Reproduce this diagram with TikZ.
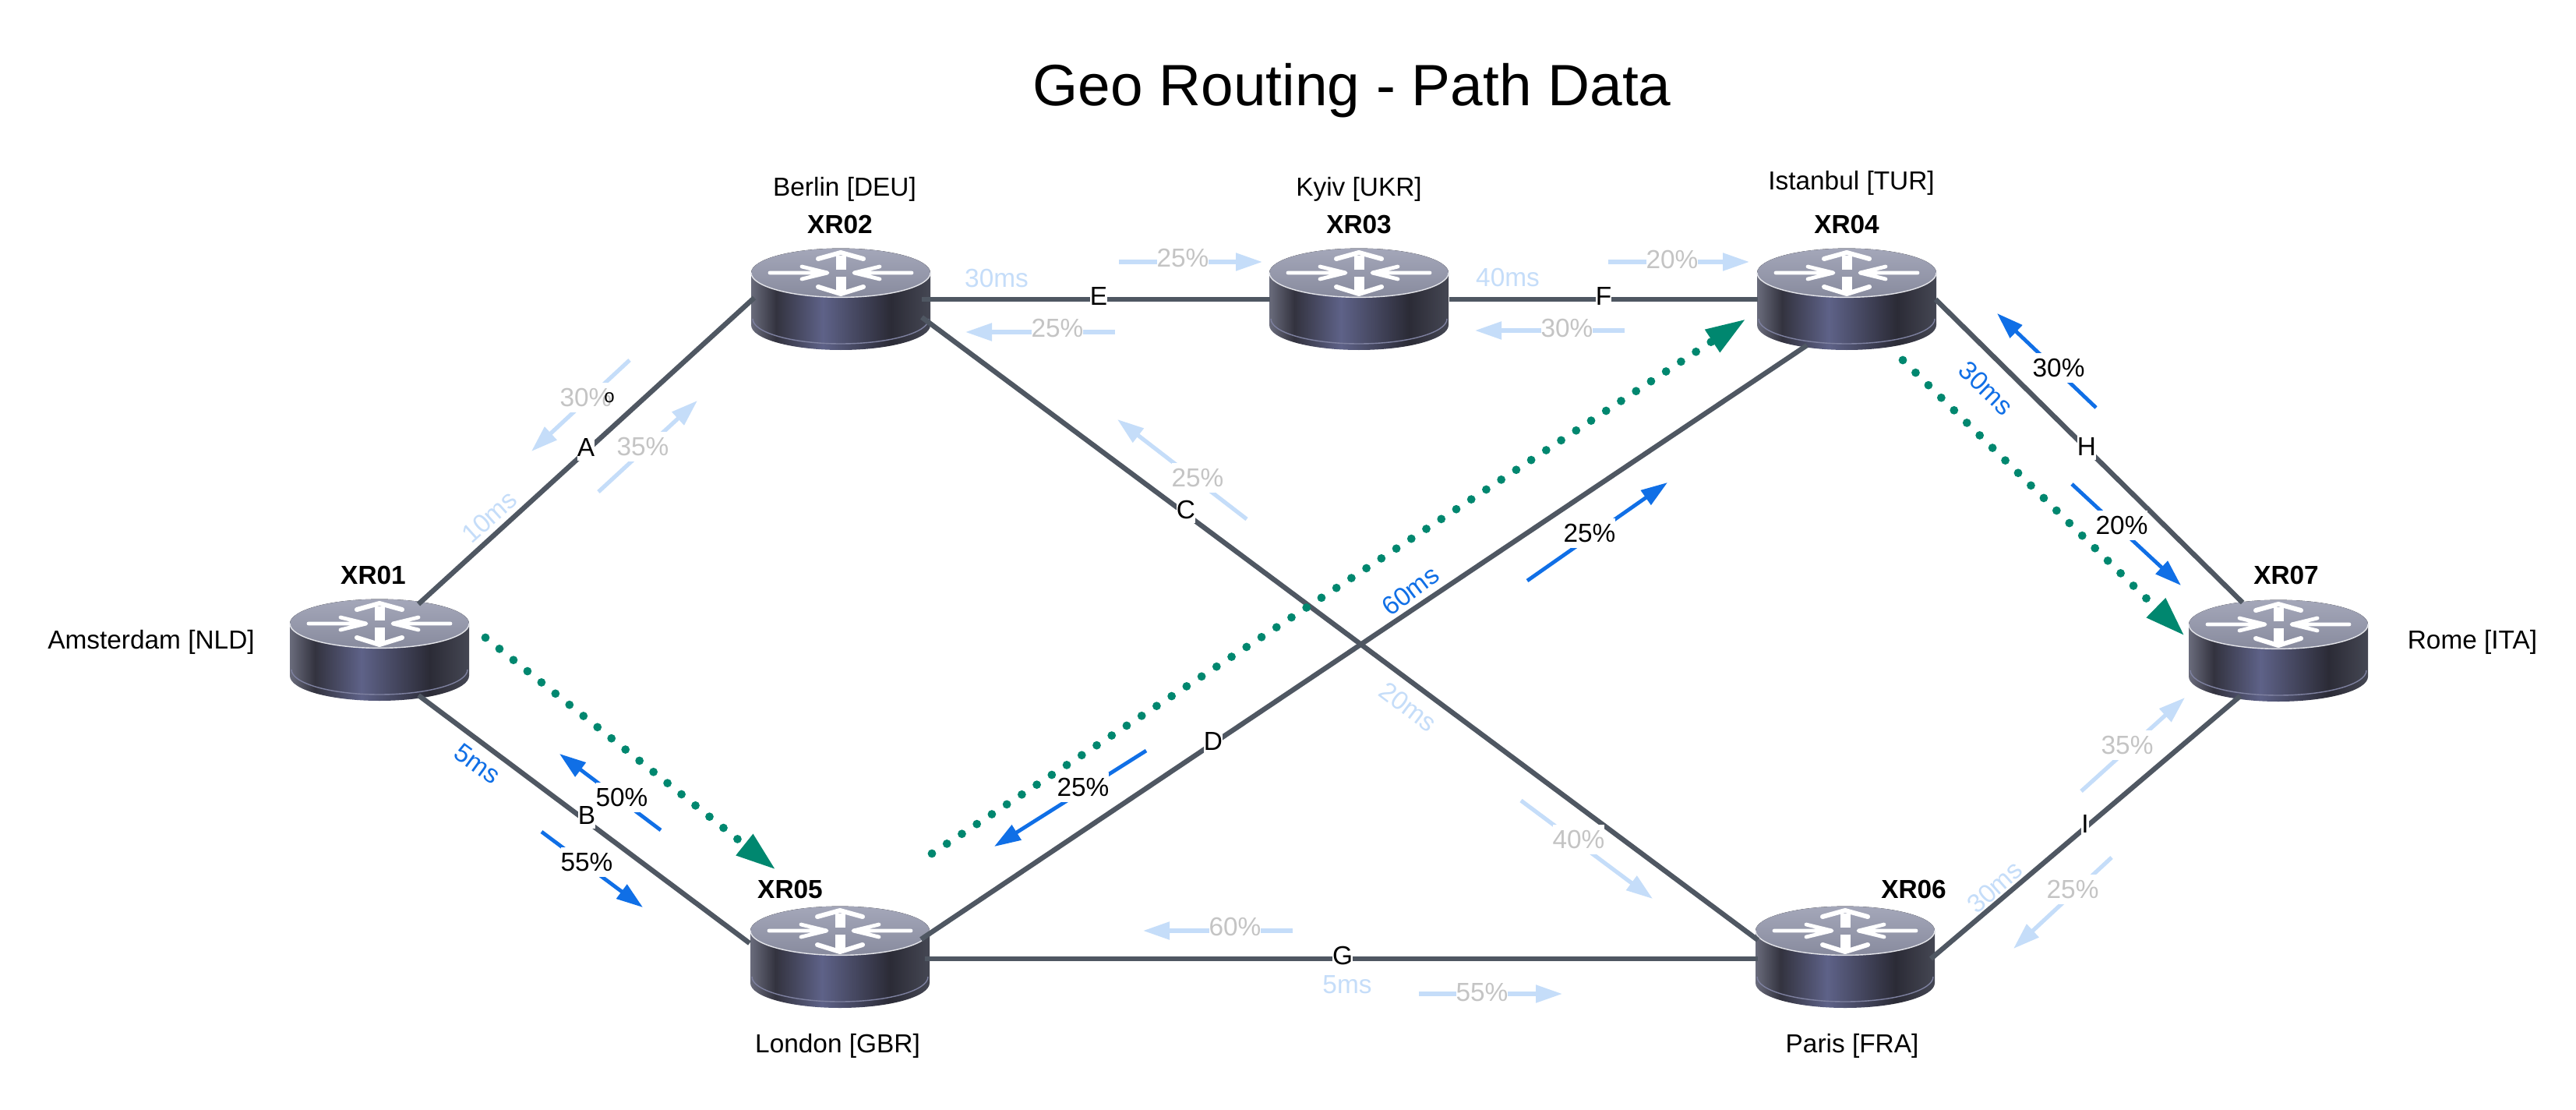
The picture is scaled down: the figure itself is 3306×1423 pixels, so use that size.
\documentclass[tikz,border=0pt]{standalone}
\usepackage{fontspec}
\setmainfont{Liberation Sans}
\usetikzlibrary{arrows.meta}
\definecolor{sa}{HTML}{6A6C7C}
\definecolor{sb}{HTML}{33333F}
\definecolor{sc}{HTML}{5E6288}
\definecolor{sd}{HTML}{2B2B36}
\definecolor{se}{HTML}{454753}
\definecolor{ta}{HTML}{A4A7B9}
\definecolor{tb}{HTML}{888B9E}
\definecolor{linkc}{HTML}{4F5762}
\definecolor{blueflow}{HTML}{106FE6}
\definecolor{lightflow}{HTML}{C5DDF9}
\definecolor{greyt}{HTML}{C4C4C4}
\definecolor{greenp}{HTML}{00876F}
\pgfdeclarehorizontalshading{routerside}{100bp}{color(0bp)=(sa); color(25bp)=(sa); color(32bp)=(sb); color(45bp)=(sc); color(64bp)=(sd); color(75bp)=(se); color(100bp)=(se)}
\pgfdeclareverticalshading{routertop}{100bp}{color(0bp)=(tb); color(25bp)=(tb); color(75bp)=(ta); color(100bp)=(ta)}
\tikzset{
  x=0.5pt,y=-0.5pt,
  link/.style={draw=linkc,line width=3.2pt},
  letter/.style={fill=white,inner sep=0pt,minimum height=17pt,font=\fontsize{16.7}{19}\selectfont},
  txt/.style={inner sep=0pt,font=\fontsize{16.7}{19}\selectfont},
  host/.style={inner sep=0pt,font=\fontsize{16.7}{19}\selectfont\bfseries},
  flowlabel/.style={fill=white,inner sep=0pt,minimum height=19pt,font=\fontsize{16.7}{19}\selectfont},
  hot/.style={draw=blueflow,line width=2.4pt,-{Triangle[length=17pt,width=11pt,fill=blueflow]}},
  cold/.style={draw=lightflow,line width=2.6pt,-{Triangle[length=17pt,width=11pt,fill=lightflow]}},
  path/.style={draw=greenp,line width=5.4pt,line cap=round,dash pattern=on 0pt off 11.5pt,-{Triangle[length=26pt,width=16pt,fill=greenp]}},
  routerbox/.style={inner sep=0pt,minimum width=115pt,minimum height=65pt},
  arroww/.style={draw=white,line width=2.4pt,line cap=round,line join=round},
}
\newcommand\router[3]{%
  \node[routerbox] (#1) at (#2,#3+34) {};
  \begin{scope}[shift={(#2,#3)}]
    \shade[shading=routerside] (-115,0) -- (-115,67) arc[start angle=180,end angle=360,x radius=57.5pt,y radius=16pt] -- (115,0) -- cycle;
    \draw[draw=sc!80!white,line width=0.7pt] (-113,59) arc[start angle=180,end angle=360,x radius=56.5pt,y radius=16pt];
    \fill[shading=routertop] (0,0) ellipse[x radius=57.5pt,y radius=15.7pt];
    \draw[draw=white!70!ta,line width=0.7pt] (-115,0) arc[start angle=180,end angle=360,x radius=57.5pt,y radius=15.7pt];
    \draw[arroww] (-91,0) -- (-20,0) (-50,-8) -- (-17,0) -- (-50,8);
    \draw[arroww] (91,0) -- (20,0) (50,-8) -- (17,0) -- (50,8);
    \draw[arroww,line width=6.5pt,line cap=butt] (0,-4) -- (0,-22);
    \draw[arroww,line width=3pt] (-29,-18) -- (0,-26) -- (29,-18);
    \draw[arroww,line width=6.5pt,line cap=butt] (0,5) -- (0,24);
    \draw[arroww,line width=3pt] (-29,18) -- (0,27) -- (29,18);
  \end{scope}}
\newcommand\linkline[3]{%
  \coordinate (#1s) at (#2); \coordinate (#1t) at (#3);
  \draw[link] (#1s) -- (#1t);}
\newcommand\hotflow[5]{%
  \coordinate (#1s) at (#2); \coordinate (#1t) at (#3);
  \draw[hot] (#1s) -- (#1t);
  \node[flowlabel,text=black] (#1l) at (#4) {#5};}
\newcommand\coldflow[5]{%
  \coordinate (#1s) at (#2); \coordinate (#1t) at (#3);
  \draw[cold] (#1s) -- (#1t);
  \node[flowlabel,text=greyt] (#1l) at (#4) {#5};}
\begin{document}
\begin{tikzpicture}
\useasboundingbox[fill=white] (0,0) rectangle (3306,1423);
\node[inner sep=0pt,font=\fontsize{37.4}{44}\selectfont] (title) at (1735,116) {Geo Routing - Path Data};

\router{xr01}{487}{800}
\router{xr02}{1079}{350}
\router{xr03}{1744}{350}
\router{xr04}{2370}{350}
\router{xr05}{1078}{1194}
\router{xr06}{2368}{1194}
\router{xr07}{2924}{801}

\node[host] (h1) at (479,738) {XR01};
\node[host] (h2) at (1078,288) {XR02};
\node[host] (h3) at (1744,288) {XR03};
\node[host] (h4) at (2370,288) {XR04};
\node[host] (h5) at (1014,1141) {XR05};
\node[host] (h6) at (2456,1141) {XR06};
\node[host] (h7) at (2934,738) {XR07};

\node[txt] (l1) at (194,824) {Amsterdam [NLD]};
\node[txt] (l2) at (1084,243) {Berlin [DEU]};
\node[txt] (l3) at (1744,243) {Kyiv [UKR]};
\node[txt] (l4) at (2376,235) {Istanbul [TUR]};
\node[txt] (l5) at (1075,1342) {London [GBR]};
\node[txt] (l6) at (2377,1342) {Paris [FRA]};
\node[txt] (l7) at (3173,824) {Rome [ITA]};

\linkline{a}{537,775}{968,382}
\linkline{b}{537,892}{962,1210}
\linkline{c}{1183,407}{2256,1206}
\linkline{d}{1182,1205}{2319,443}
\linkline{e}{1183,384}{1630,384}
\linkline{f}{1860,384}{2256,384}
\linkline{g}{1187,1230}{2256,1230}
\linkline{h}{2484,384}{2878,773}
\linkline{i}{2875,893}{2478,1230}

\node[letter] (la) at (752,574) {A};
\node[letter] (lb) at (753,1046) {B};
\node[letter] (lc) at (1522,654) {C};
\node[letter] (ld) at (1557,951) {D};
\node[letter] (le) at (1410,380) {E};
\node[letter] (lf) at (2058,380) {F};
\node[letter] (lg) at (1723,1226) {G};
\node[letter] (lh) at (2678,573) {H};
\node[letter] (li) at (2676,1057) {I};

\coordinate (p1s) at (623,818); \coordinate (p1t) at (996,1116);
\coordinate (p2s) at (1196,1095); \coordinate (p2t) at (2241,409);
\coordinate (p3s) at (2442,462); \coordinate (p3t) at (2804,816);
\draw[path] (p1s) -- (p1t);
\draw[path] (p2s) -- (p2t);
\draw[path] (p3s) -- (p3t);

\coldflow{fa1}{808,462}{682,579}{752,510}{30\%}
\node[inner sep=0pt,font=\fontsize{12}{12}\selectfont] (artifact) at (782,510) {o};
\coldflow{fa2}{768,631}{895,514}{825,573}{35\%}
\hotflow{fb1}{848,1065}{718,967}{798,1023}{50\%}
\hotflow{fb2}{695,1067}{825,1164}{753,1106}{55\%}
\coldflow{fc1}{1600,666}{1434,538}{1537,613}{25\%}
\coldflow{fc2}{1952,1027}{2121,1153}{2026,1077}{40\%}
\hotflow{fd1}{1960,745}{2140,619}{2040,684}{25\%}
\hotflow{fd2}{1471,963}{1276,1086}{1390,1010}{25\%}
\coldflow{fe1}{1436,336}{1620,336}{1518,331}{25\%}
\coldflow{fe2}{1431,426}{1239,426}{1357,421}{25\%}
\coldflow{ff1}{2064,336}{2245,336}{2146,333}{20\%}
\coldflow{ff2}{2085,424}{1893,424}{2011,421}{30\%}
\coldflow{fg1}{1659,1194}{1467,1194}{1585,1189}{60\%}
\coldflow{fg2}{1821,1275}{2005,1275}{1902,1273}{55\%}
\hotflow{fh1}{2690,523}{2563,402}{2642,472}{30\%}
\hotflow{fh2}{2659,621}{2799,751}{2723,674}{20\%}
\coldflow{fi1}{2671,1015}{2804,895}{2730,956}{35\%}
\coldflow{fi2}{2710,1100}{2584,1217}{2660,1141}{25\%}

\node[txt,text=lightflow,rotate=42] (m1) at (628,663) {10ms};
\node[txt,text=blueflow,rotate=-36] (m2) at (613,980) {5ms};
\node[txt,text=lightflow] (m3) at (1279,357) {30ms};
\node[txt,text=lightflow] (m4) at (1935,356) {40ms};
\node[txt,text=lightflow,rotate=-37] (m5) at (1807,907) {20ms};
\node[txt,text=blueflow,rotate=37] (m6) at (1810,758) {60ms};
\node[txt,text=lightflow] (m7) at (1729,1263) {5ms};
\node[txt,text=blueflow,rotate=-44] (m8) at (2549,498) {30ms};
\node[txt,text=lightflow,rotate=42] (m9) at (2560,1138) {30ms};
\end{tikzpicture}
\end{document}
